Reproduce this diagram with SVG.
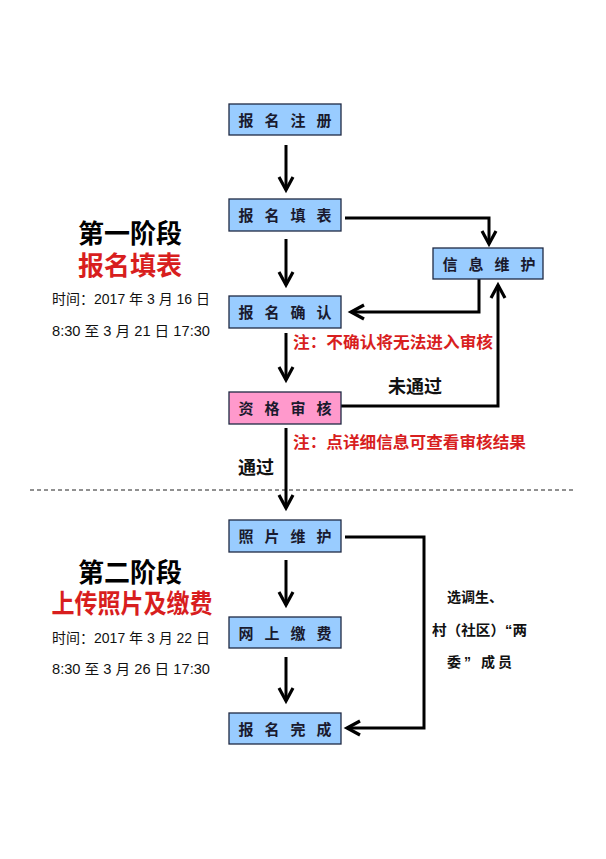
<svg xmlns="http://www.w3.org/2000/svg" width="606" height="859" viewBox="0 0 606 859">
<style>
.box{stroke:#1f2a44;stroke-width:1.3}
.blue{fill:#99ccff}
.pink{fill:#ff99cc}
.bt{font-family:"Liberation Sans","Noto Sans CJK SC",sans-serif;font-weight:bold;font-size:15px;fill:#1a1a2e;text-anchor:middle}
.conn{fill:none;stroke:#000;stroke-width:3;stroke-linejoin:miter}
.note{font-family:"Liberation Sans","Noto Sans CJK SC",sans-serif;font-weight:bold;font-size:16px;fill:#d81e1e}
.lbl{font-family:"Liberation Sans","Noto Sans CJK SC",sans-serif;font-weight:bold;fill:#111}
.h1{font-family:"Liberation Sans","Noto Sans CJK SC",sans-serif;font-weight:bold;font-size:26px;fill:#000;text-anchor:middle}
.h2{font-family:"Liberation Sans","Noto Sans CJK SC",sans-serif;font-weight:bold;font-size:26px;fill:#d81e1e;text-anchor:middle}
.time{font-family:"Liberation Sans","Noto Sans CJK SC",sans-serif;font-size:14px;fill:#111}
</style>
<defs>
<marker id="ah" markerUnits="userSpaceOnUse" markerWidth="20" markerHeight="20" viewBox="-16 -10 20 20" refX="0" refY="0" orient="auto">
<path d="M-13,-7 L0,0 L-13,7" fill="none" stroke="#000" stroke-width="3.2"/>
</marker>
</defs>
<rect width="606" height="859" fill="#fff"/>

<line x1="30" y1="490" x2="576" y2="490" stroke="#222" stroke-width="1" stroke-dasharray="4 3"/>

<g id="connectors">
<line class="conn" x1="286" y1="145" x2="286" y2="190" marker-end="url(#ah)"/>
<line class="conn" x1="286" y1="239" x2="286" y2="285" marker-end="url(#ah)"/>
<polyline class="conn" points="345,218 489,218 489,244" marker-end="url(#ah)"/>
<polyline class="conn" points="479,279 479,312 351,312" marker-end="url(#ah)"/>
<polyline class="conn" points="341,406 498,406 498,285" marker-end="url(#ah)"/>
<line class="conn" x1="286" y1="333" x2="286" y2="380" marker-end="url(#ah)"/>
<line class="conn" x1="286" y1="428" x2="286" y2="508" marker-end="url(#ah)"/>
<line class="conn" x1="286" y1="560" x2="286" y2="605" marker-end="url(#ah)"/>
<line class="conn" x1="286" y1="657" x2="286" y2="701" marker-end="url(#ah)"/>
<polyline class="conn" points="345,537 424,537 424,728 347,728" marker-end="url(#ah)"/>
</g>

<g id="n-register">
<rect class="box blue" x="229" y="104" width="112" height="31"/>
<text class="bt" x="246 272 298 324" y="126">报名注册</text>
</g>
<g id="n-fill">
<rect class="box blue" x="229" y="199" width="112" height="32"/>
<text class="bt" x="246 272 298 324" y="221">报名填表</text>
</g>
<g id="n-info">
<rect class="box blue" x="433" y="248" width="110" height="31"/>
<text class="bt" x="450 476 502 528" y="270">信息维护</text>
</g>
<g id="n-confirm">
<rect class="box blue" x="229" y="296" width="112" height="32"/>
<text class="bt" x="246 272 298 324" y="318">报名确认</text>
</g>
<g id="n-review">
<rect class="box pink" x="229" y="392" width="112" height="32"/>
<text class="bt" x="246 272 298 324" y="414">资格审核</text>
</g>
<g id="n-photo">
<rect class="box blue" x="229" y="520" width="112" height="32"/>
<text class="bt" x="246 272 298 324" y="542">照片维护</text>
</g>
<g id="n-pay">
<rect class="box blue" x="229" y="617" width="112" height="31"/>
<text class="bt" x="246 272 298 324" y="639">网上缴费</text>
</g>
<g id="n-done">
<rect class="box blue" x="229" y="713" width="112" height="31"/>
<text class="bt" x="246 272 298 324" y="735">报名完成</text>
</g>

<g id="labels">
<text class="note" x="293" y="348" textLength="200" lengthAdjust="spacingAndGlyphs">注：不确认将无法进入审核</text>
<text class="note" x="293" y="448" textLength="233" lengthAdjust="spacingAndGlyphs">注：点详细信息可查看审核结果</text>
<text class="lbl" x="415" y="393" font-size="18" text-anchor="middle">未通过</text>
<text class="lbl" x="238" y="474" font-size="18">通过</text>
<text class="lbl" x="447" y="602" font-size="14">选调生、</text>
<text class="lbl" x="432" y="635" font-size="14" textLength="95" lengthAdjust="spacingAndGlyphs">村（社区）“两</text>
<text class="lbl" x="447" y="667" font-size="14" textLength="65" lengthAdjust="spacing">委” 成员</text>
</g>

<g id="phase1">
<text class="h1" x="130" y="243">第一阶段</text>
<text class="h2" x="130" y="275">报名填表</text>
<text class="time" x="52" y="304" textLength="158" lengthAdjust="spacingAndGlyphs">时间：2017 年 3 月 16 日</text>
<text class="time" x="52" y="336" textLength="158" lengthAdjust="spacingAndGlyphs">8:30 至 3 月 21 日 17:30</text>
</g>
<g id="phase2">
<text class="h1" x="130" y="582">第二阶段</text>
<text class="h2" x="132" y="613" textLength="161" lengthAdjust="spacingAndGlyphs">上传照片及缴费</text>
<text class="time" x="52" y="643" textLength="158" lengthAdjust="spacingAndGlyphs">时间：2017 年 3 月 22 日</text>
<text class="time" x="52" y="674" textLength="158" lengthAdjust="spacingAndGlyphs">8:30 至 3 月 26 日 17:30</text>
</g>
</svg>
